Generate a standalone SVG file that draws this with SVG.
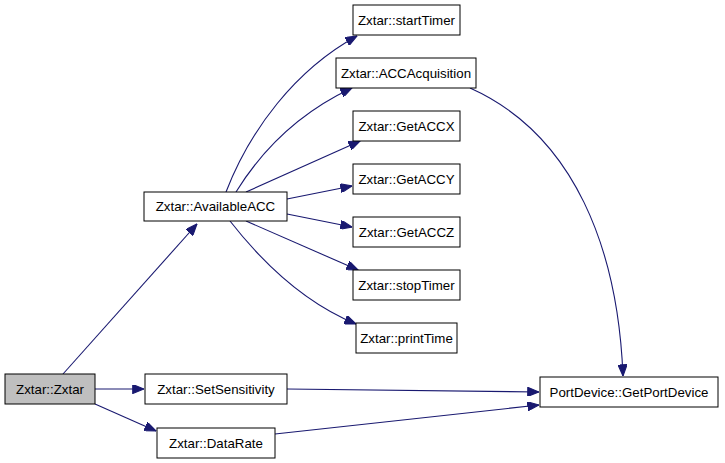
<svg xmlns="http://www.w3.org/2000/svg" width="725" height="463" viewBox="0 0 725 463">
<style>
.n rect{fill:#fff;stroke:#000;stroke-width:1}
.n text{font-family:"Liberation Sans",Arial,sans-serif;font-size:13.3px;fill:#000;text-anchor:middle}
.e path{fill:none;stroke:#191970;stroke-width:1.1}
</style>
<defs>
<marker id="a" viewBox="0 0 10 8" refX="10" refY="4" markerWidth="12" markerHeight="9" markerUnits="userSpaceOnUse" orient="auto">
<path d="M0,0 L10,4 L0,8 Z" fill="#191970" stroke="#191970"/>
</marker>
</defs>
<rect width="725" height="463" fill="#fff"/>
<g class="e" id="edges">
<path d="M63,374 L197,224" marker-end="url(#a)"/>
<path d="M95,389 L144,389" marker-end="url(#a)"/>
<path d="M95,404 L156,431" marker-end="url(#a)"/>
<path d="M226,192 C250,130 295,70 357,36" marker-end="url(#a)"/>
<path d="M236,192 C265,145 305,110 352,88" marker-end="url(#a)"/>
<path d="M246,192 L360,141" marker-end="url(#a)"/>
<path d="M287,199 L352,186" marker-end="url(#a)"/>
<path d="M287,214 L352,227" marker-end="url(#a)"/>
<path d="M246,221 L358,270" marker-end="url(#a)"/>
<path d="M230,221 C262,262 305,303 356,324" marker-end="url(#a)"/>
<path d="M470,88 C575,135 618,250 623,376" marker-end="url(#a)"/>
<path d="M287,389 L539,392" marker-end="url(#a)"/>
<path d="M275,434 L539,405" marker-end="url(#a)"/>
</g>
<g class="n" id="n_zxtar"><rect x="5" y="374" width="90" height="30" style="fill:#bfbfbf"/><text x="50" y="394">Zxtar::Zxtar</text></g>
<g class="n" id="n_setsens"><rect x="145" y="374" width="142" height="30"/><text x="216" y="394">Zxtar::SetSensitivity</text></g>
<g class="n" id="n_datarate"><rect x="157" y="428" width="118" height="30"/><text x="216" y="448">Zxtar::DataRate</text></g>
<g class="n" id="n_avail"><rect x="144" y="192" width="143" height="29"/><text x="215.5" y="211">Zxtar::AvailableACC</text></g>
<g class="n" id="n_start"><rect x="353" y="5" width="107" height="30"/><text x="406.5" y="25">Zxtar::startTimer</text></g>
<g class="n" id="n_accacq"><rect x="336" y="58" width="140" height="30"/><text x="406" y="78">Zxtar::ACCAcquisition</text></g>
<g class="n" id="n_getx"><rect x="353" y="111" width="107" height="30"/><text x="406.5" y="131">Zxtar::GetACCX</text></g>
<g class="n" id="n_gety"><rect x="353" y="164" width="107" height="30"/><text x="406.5" y="184">Zxtar::GetACCY</text></g>
<g class="n" id="n_getz"><rect x="353" y="217" width="107" height="30"/><text x="406.5" y="237">Zxtar::GetACCZ</text></g>
<g class="n" id="n_stop"><rect x="353" y="270" width="107" height="30"/><text x="406.5" y="290">Zxtar::stopTimer</text></g>
<g class="n" id="n_print"><rect x="356" y="323" width="101" height="30"/><text x="406.5" y="343">Zxtar::printTime</text></g>
<g class="n" id="n_port"><rect x="540" y="377" width="178" height="30"/><text x="629" y="397">PortDevice::GetPortDevice</text></g>
</svg>
